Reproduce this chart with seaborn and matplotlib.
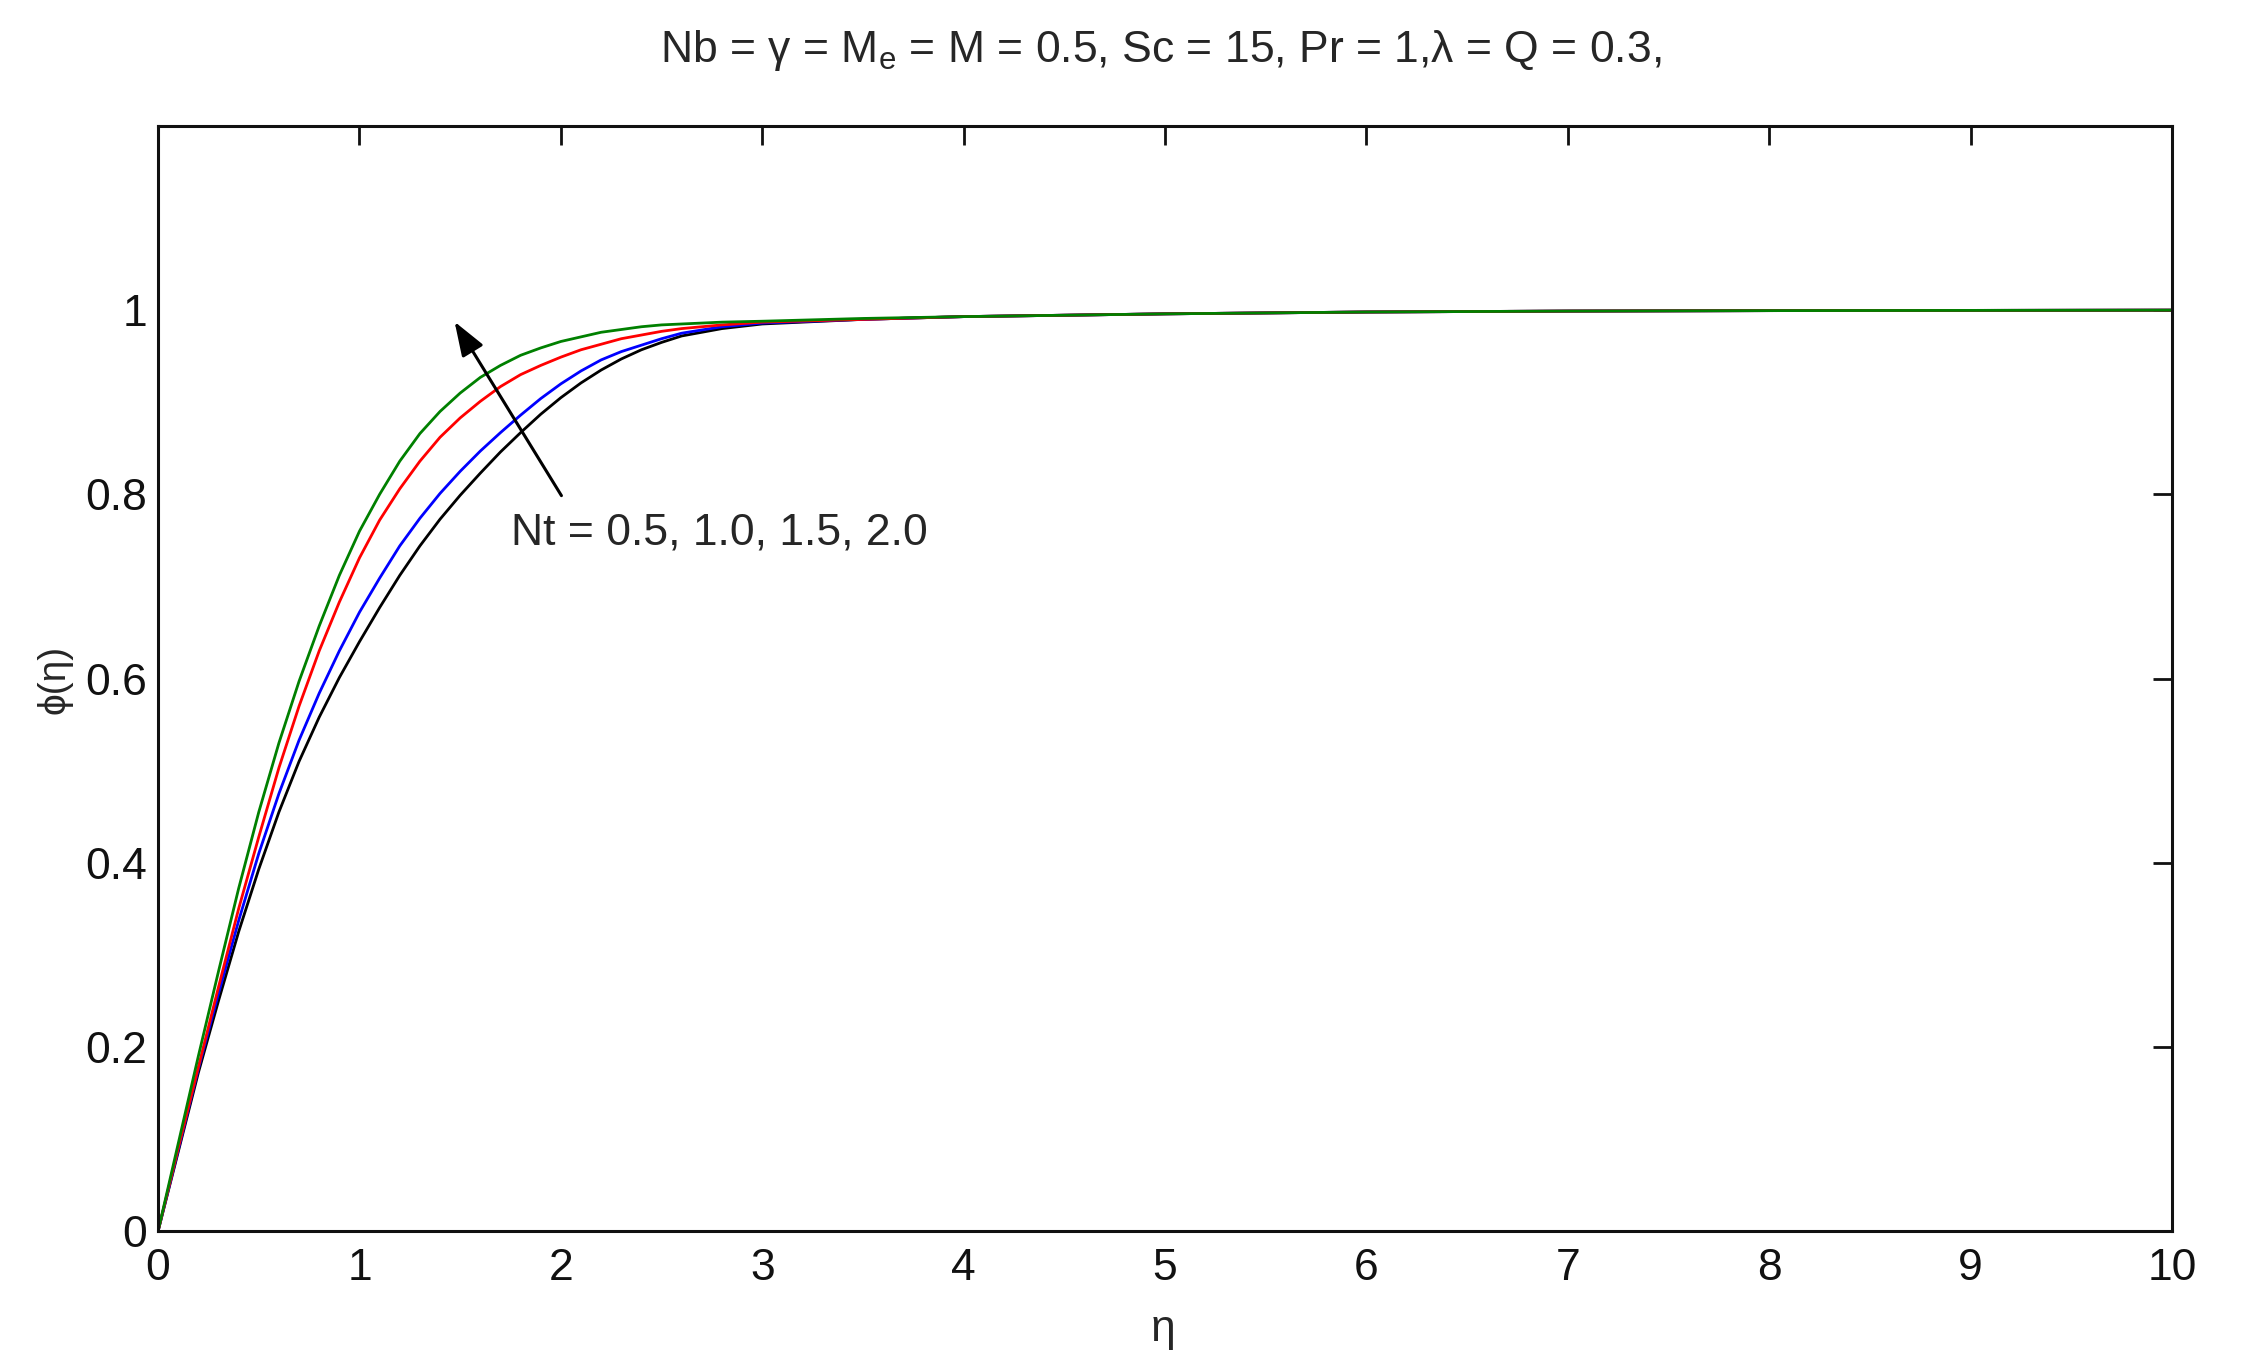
import pandas as pd
import matplotlib
matplotlib.use("Agg")
import matplotlib.pyplot as plt
import seaborn as sns

sns.set_theme(style="white")
plt.rcParams['font.family'] = ['Liberation Sans', 'DejaVu Sans']
plt.rcParams['mathtext.fontset'] = 'custom'
plt.rcParams['mathtext.rm'] = 'Liberation Sans'
plt.rcParams['mathtext.it'] = 'Liberation Sans:italic'

# values
eta = [0, 0.1, 0.2, 0.3, 0.4, 0.5, 0.6, 0.7, 0.8, 0.9, 1.0, 1.1, 1.2, 1.3, 1.4, 1.5,
       1.6, 1.7, 1.8, 1.9, 2.0, 2.1, 2.2, 2.3, 2.4, 2.5, 2.6, 2.8, 3.0, 3.5, 4.0,
       5.0, 6.0, 7.0, 8.0, 10.0]
phi_nt05 = [0, 0.086, 0.172, 0.250, 0.325, 0.393, 0.455, 0.510, 0.558, 0.601, 0.640,
            0.677, 0.712, 0.744, 0.773, 0.799, 0.823, 0.846, 0.867, 0.887, 0.905,
            0.921, 0.935, 0.947, 0.957, 0.965, 0.972, 0.980, 0.985, 0.990, 0.993,
            0.996, 0.998, 0.999, 0.9995, 1.0]
phi_nt10 = [0, 0.088, 0.176, 0.258, 0.337, 0.410, 0.475, 0.533, 0.584, 0.630, 0.672,
            0.709, 0.744, 0.774, 0.801, 0.825, 0.847, 0.867, 0.886, 0.904, 0.920,
            0.934, 0.946, 0.955, 0.962, 0.969, 0.975, 0.982, 0.986, 0.990, 0.993,
            0.996, 0.998, 0.999, 0.9995, 1.0]
phi_nt15 = [0, 0.090, 0.178, 0.265, 0.350, 0.428, 0.503, 0.570, 0.630, 0.683, 0.731,
            0.772, 0.806, 0.836, 0.862, 0.883, 0.901, 0.917, 0.930, 0.940, 0.949,
            0.957, 0.963, 0.969, 0.973, 0.977, 0.980, 0.984, 0.987, 0.990, 0.993,
            0.996, 0.998, 0.999, 0.9995, 1.0]
phi_nt20 = [0, 0.095, 0.190, 0.282, 0.372, 0.455, 0.530, 0.597, 0.657, 0.712, 0.760,
            0.800, 0.836, 0.866, 0.890, 0.910, 0.927, 0.940, 0.951, 0.959, 0.966,
            0.971, 0.976, 0.979, 0.982, 0.984, 0.985, 0.987, 0.988, 0.991, 0.993,
            0.996, 0.998, 0.999, 0.9995, 1.0]
nt_labels = ['0.5', '1.0', '1.5', '2.0']
line_colors = ['#000000', '#0000ff', '#ff0000', '#008000']

x_ticks = list(range(0, 11))
y_ticks = [0, 0.2, 0.4, 0.6, 0.8, 1]
y_tick_labels = ['0', '0.2', '0.4', '0.6', '0.8', '1']

frames = []
for lab, vals in zip(nt_labels, [phi_nt05, phi_nt10, phi_nt15, phi_nt20]):
    frames.append(pd.DataFrame({'eta': eta, 'phi': vals, 'Nt': lab}))
df = pd.concat(frames, ignore_index=True)

fig = plt.figure(figsize=(22.52, 13.71), dpi=100)
ax = fig.add_axes([0.0702, 0.1021, 0.8943, 0.8060])

sns.lineplot(data=df, x='eta', y='phi', hue='Nt', palette=line_colors,
             linewidth=2.0, legend=False, ax=ax, sort=False)

ax.set_xlim(0, 10)
ax.set_ylim(0, 1.2)
ax.set_xticks(x_ticks)
ax.set_xticklabels([str(t) for t in x_ticks])
ax.set_yticks(y_ticks)
ax.set_yticklabels(y_tick_labels)
ax.tick_params(direction='in', length=14, width=2, labelsize=32,
               top=True, right=True, colors='#111111')
ax.tick_params(axis='x', pad=12)
ax.tick_params(axis='y', pad=8)
for s in ax.spines.values():
    s.set_linewidth(2.2)
    s.set_color('#111111')

ax.set_xlabel('')
ax.set_ylabel('')
fig.text(1163 / 2252, 1 - 1330 / 1371, 'η', fontsize=32, ha='center', va='center')
fig.text(55 / 2252, 1 - 679 / 1371, 'ϕ(η)', fontsize=28, rotation=90,
         ha='center', va='center')

fig.text(1161 / 2252, 1 - 62 / 1371,
         r'Nb = γ = M$_{\rm e}$ = M = 0.5, Sc = 15, Pr = 1,λ = Q = 0.3,',
         fontsize=32, ha='center', va='baseline')

ax.annotate('', xy=(1.465, 0.99), xytext=(2.01, 0.796),
            arrowprops=dict(arrowstyle='-|>,head_length=0.7,head_width=0.25',
                            color='black', lw=2.2, mutation_scale=30))
ax.text(1.75, 0.746, 'Nt = 0.5, 1.0, 1.5, 2.0', fontsize=32,
        ha='left', va='baseline')

fig.savefig('out.png', dpi=100)
plt.close(fig)
